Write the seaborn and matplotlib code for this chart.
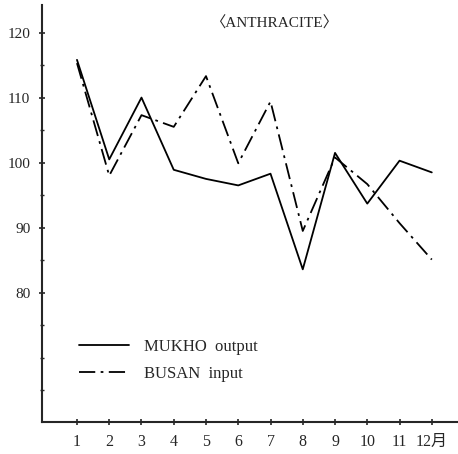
import pandas as pd
import seaborn as sb
import matplotlib.pyplot as plt
from matplotlib.ticker import MultipleLocator

months = list(range(1, 13))
month_labels = ['1', '2', '3', '4', '5', '6', '7', '8', '9', '10', '11', '12月']
mukho_output = [115.8, 100.5, 110.0, 98.9, 97.5, 96.5, 98.3, 83.6, 101.5, 93.7, 100.3, 98.5]
busan_input = [115.3, 98.0, 107.3, 105.5, 113.3, 99.9, 109.4, 89.5, 100.8, 96.7, 90.7, 85.1]

df = pd.DataFrame({
    'month': months * 2,
    'value': mukho_output + busan_input,
    'series': ['MUKHO  output'] * 12 + ['BUSAN  input'] * 12,
})

sb.set_style('ticks')
plt.rcParams['font.family'] = ['Liberation Serif', 'Noto Sans CJK JP']

fig = plt.figure(figsize=(4.58, 4.54), dpi=100)
ax = fig.add_axes([0.092, 0.07, 0.905, 0.92])

# solid for output, dash-dot for input
vis = sb.lineplot(data=df, x='month', y='value', style='series',
                  dashes={'MUKHO  output': '', 'BUSAN  input': (9, 3, 1.5, 3)},
                  color='black', linewidth=1.3, ax=ax)

ax.set_xlim(-0.08, 12.77)
ax.set_ylim(60.1, 124.3)
ax.set_xticks(months)
ax.set_xticklabels(month_labels, fontsize=11.5)
ax.set_yticks([80, 90, 100, 110, 120])
ax.set_yticklabels(['80', '90', '100', '110', '120'], fontsize=11)
ax.yaxis.set_minor_locator(MultipleLocator(5))
ax.tick_params(axis='both', which='major', direction='inout', length=5, width=1.2, pad=6)
ax.tick_params(axis='y', which='minor', direction='inout', length=3, width=1)
ax.set_xlabel('')
ax.set_ylabel('')
sb.despine(ax=ax)
for s in ['left', 'bottom']:
    ax.spines[s].set_linewidth(1.5)

ax.text(0.56, 0.955, '〈ANTHRACITE〉', transform=ax.transAxes,
        ha='center', va='center', fontsize=11)

ax.legend(loc='upper left', bbox_to_anchor=(0.052, 0.236), frameon=False,
          handlelength=3.0, handletextpad=0.9, labelspacing=0.68, fontsize=12)

fig.savefig('out.png', dpi=100)
